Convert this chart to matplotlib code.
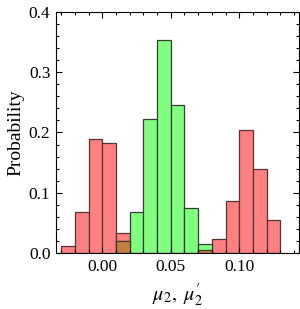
import matplotlib.pyplot as plt
import numpy as np

plt.rcParams['font.family'] = ['Liberation Serif', 'DejaVu Serif']
plt.rcParams['mathtext.fontset'] = 'stix'

# bins of width 0.01 from -0.03 to 0.13
bin_left = np.round(np.arange(-0.03, 0.13, 0.01), 3)
# probabilities
red_prob = [0.011, 0.068, 0.190, 0.182, 0.033, 0.0, 0.0, 0.0, 0.0, 0.0,
            0.005, 0.023, 0.086, 0.204, 0.139, 0.054]
green_prob = [0.0, 0.0, 0.0, 0.0, 0.020, 0.068, 0.223, 0.354, 0.245, 0.075,
              0.015, 0.0, 0.0, 0.0, 0.0, 0.0]

red_prob = np.array(red_prob)
green_prob = np.array(green_prob)
overlap = np.minimum(red_prob, green_prob)

fig = plt.figure(figsize=(3.0, 3.09), dpi=100)
ax = fig.add_axes([0.1867, 0.1812, 0.81, 0.78])

# red histogram
m = red_prob > 0
ax.bar(bin_left[m], red_prob[m], width=0.01, align='edge',
       color='#ff8080', edgecolor='#553333', linewidth=0.9)
# green histogram
m = green_prob > 0
ax.bar(bin_left[m], green_prob[m], width=0.01, align='edge',
       color='#80ff80', edgecolor='#333d33', linewidth=0.9)
# where both overlap
m = overlap > 0
ax.bar(bin_left[m], overlap[m], width=0.01, align='edge',
       color='#c0803f', edgecolor='#4a3a2a', linewidth=0.9)

ax.set_xlim(-0.0338, 0.1436)
ax.set_ylim(0, 0.4)
ax.set_xticks([0.0, 0.05, 0.10])
ax.set_xticklabels(['0.00', '0.05', '0.10'])
ax.set_xticks(np.arange(-0.03, 0.145, 0.01), minor=True)
ax.set_yticks([0.0, 0.1, 0.2, 0.3, 0.4])
ax.set_yticklabels(['0.0', '0.1', '0.2', '0.3', '0.4'])
ax.set_yticks(np.arange(0, 0.401, 0.02), minor=True)

ax.tick_params(which='both', direction='in', top=True, right=True,
               labelsize=12.5, width=0.8)
ax.tick_params(which='major', length=4.5, pad=4)
ax.tick_params(which='minor', length=2.5)
for s in ax.spines.values():
    s.set_linewidth(0.8)

ax.set_ylabel('Probability', fontsize=14, labelpad=3)
ax.set_xlabel(r'$\mu_2,\ \mu_2^{\prime}$', fontsize=14.5, labelpad=5)

fig.savefig('out.png', dpi=100)
